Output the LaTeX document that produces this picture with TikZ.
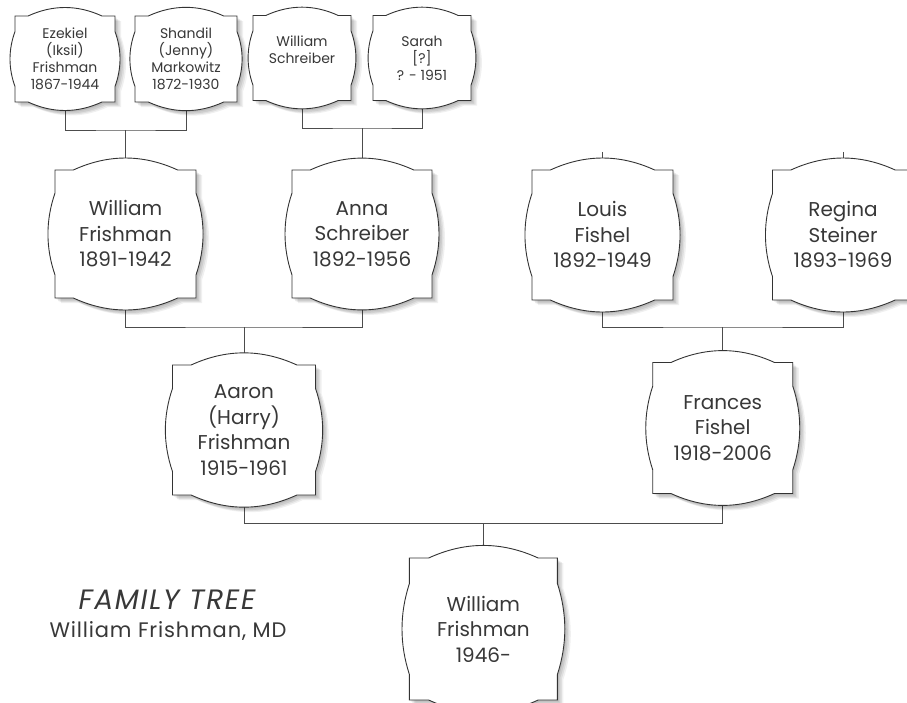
\documentclass[tikz,border=0pt]{standalone}
\usepackage{fontspec}
\setmainfont{Poppins}
\usetikzlibrary{calc}
\pgfdeclarelayer{bg}
\pgfdeclarelayer{mid}
\pgfsetlayers{bg,mid,main}
\definecolor{ink}{HTML}{383838}
\tikzset{
  person/.style={inner sep=0pt, align=center, text=ink, font=\fontsize{20}{25.5}\selectfont},
  smallperson/.style={font=\fontsize{14}{17}\selectfont},
  link/.style={draw=black!70, line width=0.9pt},
  plaqueline/.style={draw=black!80, line width=0.9pt, fill=white,
    preaction={fill=black, opacity=0.08, transform canvas={shift={(1.5pt,-1.5pt)}}},
    preaction={fill=black, opacity=0.08, transform canvas={shift={(3pt,-3pt)}}},
    preaction={fill=black, opacity=0.07, transform canvas={shift={(4.5pt,-4pt)}}},
    preaction={fill=black, opacity=0.06, transform canvas={shift={(6pt,-5pt)}}}},
  titletext/.style={inner sep=0pt, text=ink},
}
% \person[style]{name}{cx}{cy}{w}{h}{text}
\newcommand\person[7][]{%
  \node[person,#1,minimum width=#5pt,minimum height=#6pt] (#2) at (#3,#4) {#7};
  \pgfmathsetmacro\pxa{#3-#5/2}\pgfmathsetmacro\pxb{#3+#5/2}%
  \pgfmathsetmacro\pya{#4-#6/2}\pgfmathsetmacro\pyb{#4+#6/2}%
  \pgfmathsetmacro\ps{0.13*#5}\pgfmathsetmacro\pdw{(#5-2*\ps)/3}%
  \pgfmathsetmacro\pct{4/3*0.085*#5}%
  \pgfmathsetmacro\pt{0.18*#6}\pgfmathsetmacro\pdh{(#6-2*\pt)/3}%
  \pgfmathsetmacro\pcs{4/3*0.05*#5}%
  \begin{pgfonlayer}{mid}
  \path[plaqueline] (\pxa,\pya) -- (\pxa+\ps,\pya)
     .. controls (\pxa+\ps+\pdw,\pya-\pct) and (\pxb-\ps-\pdw,\pya-\pct) .. (\pxb-\ps,\pya)
     -- (\pxb,\pya) -- (\pxb,\pya+\pt)
     .. controls (\pxb+\pcs,\pya+\pt+\pdh) and (\pxb+\pcs,\pyb-\pt-\pdh) .. (\pxb,\pyb-\pt)
     -- (\pxb,\pyb) -- (\pxb-\ps,\pyb)
     .. controls (\pxb-\ps-\pdw,\pyb+\pct) and (\pxa+\ps+\pdw,\pyb+\pct) .. (\pxa+\ps,\pyb)
     -- (\pxa,\pyb) -- (\pxa,\pyb-\pt)
     .. controls (\pxa-\pcs,\pyb-\pt-\pdh) and (\pxa-\pcs,\pya+\pt+\pdh) .. (\pxa,\pya+\pt)
     -- cycle;
  \end{pgfonlayer}%
}
\begin{document}
\begin{tikzpicture}[x=1pt,y=-1pt]
\useasboundingbox (0,0) rectangle (907,702);
\begin{pgfonlayer}{bg}
\fill[white] (0,0) rectangle (907,702);
\end{pgfonlayer}

% generation 1
\person[smallperson]{ez}{65}{59}{100}{86}{Ezekiel\\(Iksil)\\Frishman\\1867-1944}
\person[smallperson]{sh}{186}{59}{102}{86}{Shandil\\(Jenny)\\Markowitz\\1872-1930}
\person[smallperson]{ws}{302}{58}{98}{85}{William\\Schreiber\\\phantom{0}}
\person[smallperson]{sa}{422}{58}{98}{85}{Sarah\\{[?]}\\? - 1951}

% generation 2
\person{wf}{125.5}{234}{141}{128}{William\\Frishman\\1891-1942}
\person{an}{362}{234}{140}{128}{Anna\\Schreiber\\1892-1956}
\person{lf}{602.5}{235}{141}{130}{Louis\\Fishel\\1892-1949}
\person{rs}{843}{235}{141}{130}{Regina\\Steiner\\1893-1969}

% generation 3
\person{aa}{244}{430}{143}{130}{Aaron\\(Harry)\\Frishman\\1915-1961}
\person{fr}{722.75}{428}{140}{131}{Frances\\Fishel\\1918-2006}

% generation 4
\person{wm}{483.4}{629}{148}{142}{William\\Frishman\\1946-}

% junctions
\coordinate (j1) at (125.5,130);
\coordinate (j2) at (362,128);
\coordinate (j3) at (244,327);
\coordinate (j4) at (722.75,327);
\coordinate (j5) at (483.4,523);
\coordinate (lfs) at ($(lf.north)+(0,-18)$);
\coordinate (rss) at ($(rs.north)+(0,-18)$);

\begin{pgfonlayer}{bg}
\draw[link] (ez.south) |- (j1) -| (sh.south);
\draw[link] (j1) -- (wf.north);
\draw[link] (ws.south) |- (j2) -| (sa.south);
\draw[link] (j2) -- (an.north);
\draw[link] (wf.south) |- (j3) -| (an.south);
\draw[link] (j3) -- (aa.north);
\draw[link] (lf.south) |- (j4) -| (rs.south);
\draw[link] (j4) -- (fr.north);
\draw[link] (aa.south) |- (j5) -| (fr.south);
\draw[link] (j5) -- (wm.north);
\draw[link] (lfs) -- (lf.north);
\draw[link] (rss) -- (rs.north);
\end{pgfonlayer}

% title
\node[titletext, font=\fontsize{28}{32}\selectfont\itshape\addfontfeatures{LetterSpace=6}] (title) at (167,600) {FAMILY TREE};
\node[titletext, font=\fontsize{21}{24}\selectfont\addfontfeatures{LetterSpace=4}] (subtitle) at (168,631) {William Frishman, MD};
\end{tikzpicture}
\end{document}
